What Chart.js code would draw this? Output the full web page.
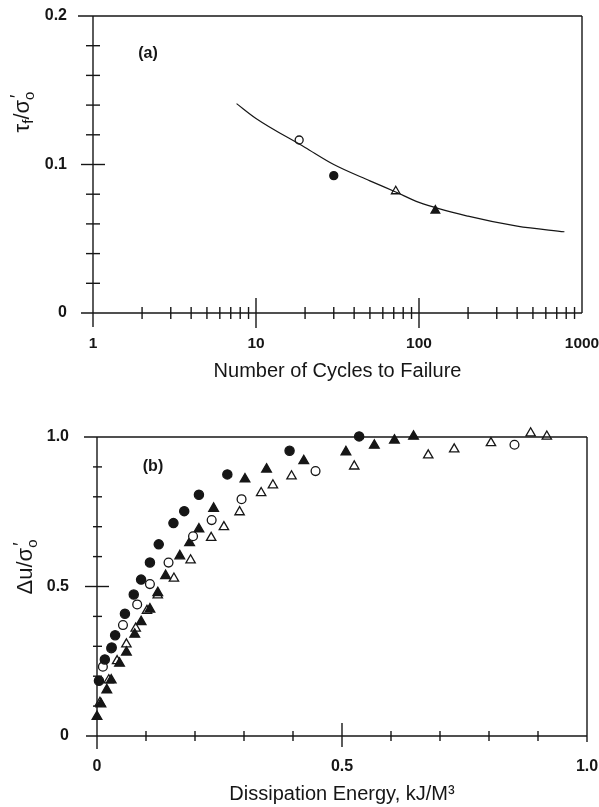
<!DOCTYPE html>
<html>
<head>
<meta charset="utf-8">
<script src="https://cdn.jsdelivr.net/npm/chart.js@4.4.1/dist/chart.umd.min.js"></script>
<style>
    html, body { margin: 0; padding: 0; background: #fff; }
    #wrapA { position: absolute; left: 0; top: 0; width: 599px; height: 400px; }
    #wrapB { position: absolute; left: 0; top: 400px; width: 599px; height: 407px; }
</style>
</head>
<body>
<div id="wrapA"><canvas id="cyclesChart"></canvas></div>
<div id="wrapB"><canvas id="energyChart"></canvas></div>
<script>
// (a) cycles to failure vs stress ratio
const cycleLabels = [1, 10, 100, 1000];
const stressLabels = [0, 0.1, 0.2];
const fitCurveX = [7.6, 10, 20, 30, 50, 72, 100, 200, 400, 780];
const fitCurveY = [0.141, 0.131, 0.1115, 0.100, 0.089, 0.0815, 0.0745, 0.0652, 0.0585, 0.0547];
const testOpenCircle = [[18.4, 0.1165]];
const testFilledCircle = [[30, 0.0925]];
const testOpenTriangle = [[72, 0.082]];
const testFilledTriangle = [[126, 0.069]];

// (b) pore pressure ratio vs dissipation energy
const energyLabels = [0, 0.5, 1.0];
const ratioLabels = [0, 0.5, 1.0];
const filledCircleX = [0.004, 0.016, 0.030, 0.037, 0.057, 0.075, 0.090, 0.108, 0.126, 0.156, 0.178, 0.208, 0.266, 0.393, 0.535];
const filledCircleY = [0.185, 0.256, 0.296, 0.337, 0.409, 0.473, 0.523, 0.580, 0.641, 0.712, 0.752, 0.807, 0.875, 0.954, 1.002];
const openCircleX = [0.012, 0.029, 0.053, 0.082, 0.108, 0.146, 0.196, 0.234, 0.295, 0.446, 0.852];
const openCircleY = [0.232, 0.293, 0.371, 0.440, 0.508, 0.580, 0.668, 0.722, 0.792, 0.886, 0.974];
const filledTriX = [0.0, 0.008, 0.020, 0.029, 0.046, 0.060, 0.077, 0.090, 0.108, 0.124, 0.140, 0.169, 0.189, 0.208, 0.238, 0.302, 0.346, 0.422, 0.508, 0.566, 0.607, 0.646];
const filledTriY = [0.065, 0.107, 0.154, 0.187, 0.243, 0.280, 0.340, 0.382, 0.424, 0.479, 0.536, 0.602, 0.646, 0.692, 0.761, 0.859, 0.892, 0.920, 0.950, 0.972, 0.989, 1.002];
const openTriX = [0.006, 0.024, 0.041, 0.060, 0.079, 0.102, 0.124, 0.157, 0.191, 0.233, 0.259, 0.291, 0.335, 0.359, 0.397, 0.525, 0.676, 0.729, 0.804, 0.885, 0.918];
const openTriY = [0.111, 0.187, 0.251, 0.307, 0.360, 0.419, 0.471, 0.527, 0.588, 0.663, 0.699, 0.749, 0.813, 0.839, 0.869, 0.902, 0.939, 0.959, 0.980, 1.013, 1.002];

const ink = '#161616';
const fontFamily = "'Liberation Sans', Arial, sans-serif";

const pts = (xs, ys) => xs.map((x, i) => ({ x: x, y: ys[i] }));
const pairs = arr => arr.map(p => ({ x: p[0], y: p[1] }));

function markers(data, style, filled, r) {
    return {
        data: data,
        showLine: false,
        pointStyle: style,
        pointRadius: r,
        pointBorderWidth: 1.3,
        pointBorderColor: ink,
        pointBackgroundColor: filled ? ink : '#fff',
        clip: false
    };
}

// fixes axis box size so the plot area lands where the original has it
function fixedAxis(size) {
    return function (scale) {
        if (scale.isHorizontal()) scale.height = size; else scale.width = size;
        scale.paddingLeft = scale.paddingRight = scale.paddingTop = scale.paddingBottom = 0;
    };
}

// text with sub/superscripts, rotated for the y axis title
function drawRich(ctx, parts, cx, cy) {
    let total = 0;
    parts.forEach(p => {
        ctx.font = p.size + 'px ' + fontFamily;
        p.w = p.stack ? 0 : ctx.measureText(p.t).width;
        total += p.w;
    });
    ctx.save();
    ctx.translate(cx, cy);
    ctx.rotate(-Math.PI / 2);
    ctx.textBaseline = 'alphabetic';
    ctx.textAlign = 'left';
    let x = -total / 2;
    parts.forEach(p => {
        ctx.font = p.size + 'px ' + fontFamily;
        ctx.fillText(p.t, x + (p.dx || 0), 7 + (p.dy || 0));
        x += p.w;
    });
    ctx.restore();
}

const framePlugin = {
    id: 'frame',
    afterDraw(chart, args, o) {
        const ctx = chart.ctx;
        const { left, right, top, bottom } = chart.chartArea;
        const xs = chart.scales.x, ys = chart.scales.y;
        ctx.save();
        ctx.strokeStyle = ink;
        ctx.fillStyle = ink;
        ctx.lineWidth = 1.4;
        const line = (x1, y1, x2, y2) => {
            ctx.beginPath(); ctx.moveTo(x1, y1); ctx.lineTo(x2, y2); ctx.stroke();
        };
        line(left - o.topExt, top, right, top);
        line(right, top, right, bottom + o.rightDrop);
        line(left, top, left, bottom + o.axisDrop);
        line(left - o.baseExt, bottom, right, bottom);
        o.yMinor.forEach(v => {
            const y = ys.getPixelForValue(v);
            line(left - o.yMinorLen[0], y, left + o.yMinorLen[1], y);
        });
        o.yMajor.forEach(v => {
            const y = ys.getPixelForValue(v);
            line(left - o.yMajorLen[0], y, left + o.yMajorLen[1], y);
        });
        o.xMinor.forEach(v => {
            const x = xs.getPixelForValue(v);
            line(x, bottom - o.xMinorLen[0], x, bottom + o.xMinorLen[1]);
        });
        o.xMajor.forEach(v => {
            const x = xs.getPixelForValue(v);
            line(x, bottom - o.xMajorLen[0], x, bottom + o.xMajorLen[1]);
        });
        drawRich(ctx, o.yTitle, o.yTitlePos[0], o.yTitlePos[1]);
        ctx.font = 'bold 16px ' + fontFamily;
        ctx.textAlign = 'center';
        ctx.textBaseline = 'middle';
        ctx.fillText(o.tag, o.tagPos[0], o.tagPos[1]);
        ctx.restore();
    }
};

const tickFont = { family: fontFamily, size: 16, weight: 'bold' };
const titleFont = { family: fontFamily, size: 20 };

const logMinor = [2, 3, 4, 5, 6, 7, 8, 9, 20, 30, 40, 50, 60, 70, 80, 90, 200, 300, 400, 500, 600, 700, 800, 900];

new Chart(document.getElementById('cyclesChart'), {
    type: 'scatter',
    data: {
        datasets: [
            {
                data: pts(fitCurveX, fitCurveY),
                showLine: true,
                borderColor: ink,
                borderWidth: 1.2,
                pointRadius: 0,
                cubicInterpolationMode: 'monotone',
                clip: false
            },
            markers(pairs(testOpenCircle), 'circle', false, 4),
            markers(pairs(testFilledCircle), 'circle', true, 4),
            markers(pairs(testOpenTriangle), 'triangle', false, 5),
            markers(pairs(testFilledTriangle), 'triangle', true, 5)
        ]
    },
    options: {
        responsive: true,
        maintainAspectRatio: false,
        animation: false,
        layout: { padding: { left: 0, top: 16, right: 17, bottom: 0 } },
        plugins: {
            legend: { display: false },
            tooltip: { enabled: false },
            frame: {
                topExt: 15, rightDrop: 0, axisDrop: 14, baseExt: 12,
                yMinor: [0.02, 0.04, 0.06, 0.08, 0.12, 0.14, 0.16, 0.18],
                yMajor: [0.1],
                yMinorLen: [7, 7], yMajorLen: [12, 12],
                xMinor: logMinor,
                xMajor: [10, 100],
                xMinorLen: [6, 6], xMajorLen: [15, 15],
                yTitle: [
                    { t: 'τ', size: 22 },
                    { t: 'f', size: 15, dy: 4 },
                    { t: '/σ', size: 22 },
                    { t: '\u2032', size: 18, dy: -6, stack: true, dx: 2 },
                    { t: 'o', size: 15, dy: 5 }
                ],
                yTitlePos: [22, 112],
                tag: '(a)',
                tagPos: [148, 54]
            }
        },
        scales: {
            x: {
                type: 'logarithmic',
                min: 1,
                max: 1000,
                afterFit: fixedAxis(87),
                grid: { display: false, drawTicks: false },
                border: { display: false },
                ticks: {
                    autoSkip: false,
                    maxRotation: 0,
                    padding: 21,
                    color: ink,
                    font: { family: fontFamily, size: 15.5, weight: 'bold' },
                    callback: v => cycleLabels.includes(v) ? String(v) : ''
                },
                title: {
                    display: true,
                    text: 'Number of Cycles to Failure',
                    color: ink,
                    font: titleFont,
                    padding: { top: 0, bottom: 17 }
                }
            },
            y: {
                min: 0,
                max: 0.2,
                afterFit: fixedAxis(93),
                afterBuildTicks: s => { s.ticks = stressLabels.map(v => ({ value: v })); },
                grid: { display: false, drawTicks: false },
                border: { display: false },
                ticks: {
                    padding: 26,
                    color: ink,
                    font: tickFont,
                    callback: v => v === 0 ? '0' : v.toFixed(1)
                }
            }
        }
    },
    plugins: [framePlugin]
});

new Chart(document.getElementById('energyChart'), {
    type: 'scatter',
    data: {
        datasets: [
            markers(pts(filledCircleX, filledCircleY), 'circle', true, 4.6),
            markers(pts(openCircleX, openCircleY), 'circle', false, 4.4),
            markers(pts(filledTriX, filledTriY), 'triangle', true, 5.6),
            markers(pts(openTriX, openTriY), 'triangle', false, 5.4)
        ]
    },
    options: {
        responsive: true,
        maintainAspectRatio: false,
        animation: false,
        layout: { padding: { left: 0, top: 37, right: 12, bottom: 0 } },
        plugins: {
            legend: { display: false },
            tooltip: { enabled: false },
            frame: {
                topExt: 13, rightDrop: 6, axisDrop: 13, baseExt: 11,
                yMinor: [0.1, 0.2, 0.3, 0.4, 0.6, 0.7, 0.8, 0.9],
                yMajor: [0.5],
                yMinorLen: [4, 5], yMajorLen: [12, 12],
                xMinor: [0.1, 0.2, 0.3, 0.4, 0.6, 0.7, 0.8, 0.9],
                xMajor: [0.5],
                xMinorLen: [5, 5], xMajorLen: [13, 11],
                yTitle: [
                    { t: 'Δu/σ', size: 22 },
                    { t: '\u2032', size: 18, dy: -6, stack: true, dx: 2 },
                    { t: 'o', size: 15, dy: 5 }
                ],
                yTitlePos: [25, 167],
                tag: '(b)',
                tagPos: [153, 67]
            }
        },
        scales: {
            x: {
                min: 0,
                max: 1,
                afterFit: fixedAxis(71),
                afterBuildTicks: s => { s.ticks = energyLabels.map(v => ({ value: v })); },
                grid: { display: false, drawTicks: false },
                border: { display: false },
                ticks: {
                    maxRotation: 0,
                    padding: 21,
                    color: ink,
                    font: tickFont,
                    callback: v => v === 0 ? '0' : v.toFixed(1)
                },
                title: {
                    display: true,
                    text: 'Dissipation Energy, kJ/M³',
                    color: ink,
                    font: titleFont,
                    padding: { top: 0, bottom: 1 }
                }
            },
            y: {
                min: 0,
                max: 1,
                afterFit: fixedAxis(97),
                afterBuildTicks: s => { s.ticks = ratioLabels.map(v => ({ value: v })); },
                grid: { display: false, drawTicks: false },
                border: { display: false },
                ticks: {
                    padding: 28,
                    color: ink,
                    font: tickFont,
                    callback: v => v === 0 ? '0' : v.toFixed(1)
                }
            }
        }
    },
    plugins: [framePlugin]
});
</script>
</body>
</html>
